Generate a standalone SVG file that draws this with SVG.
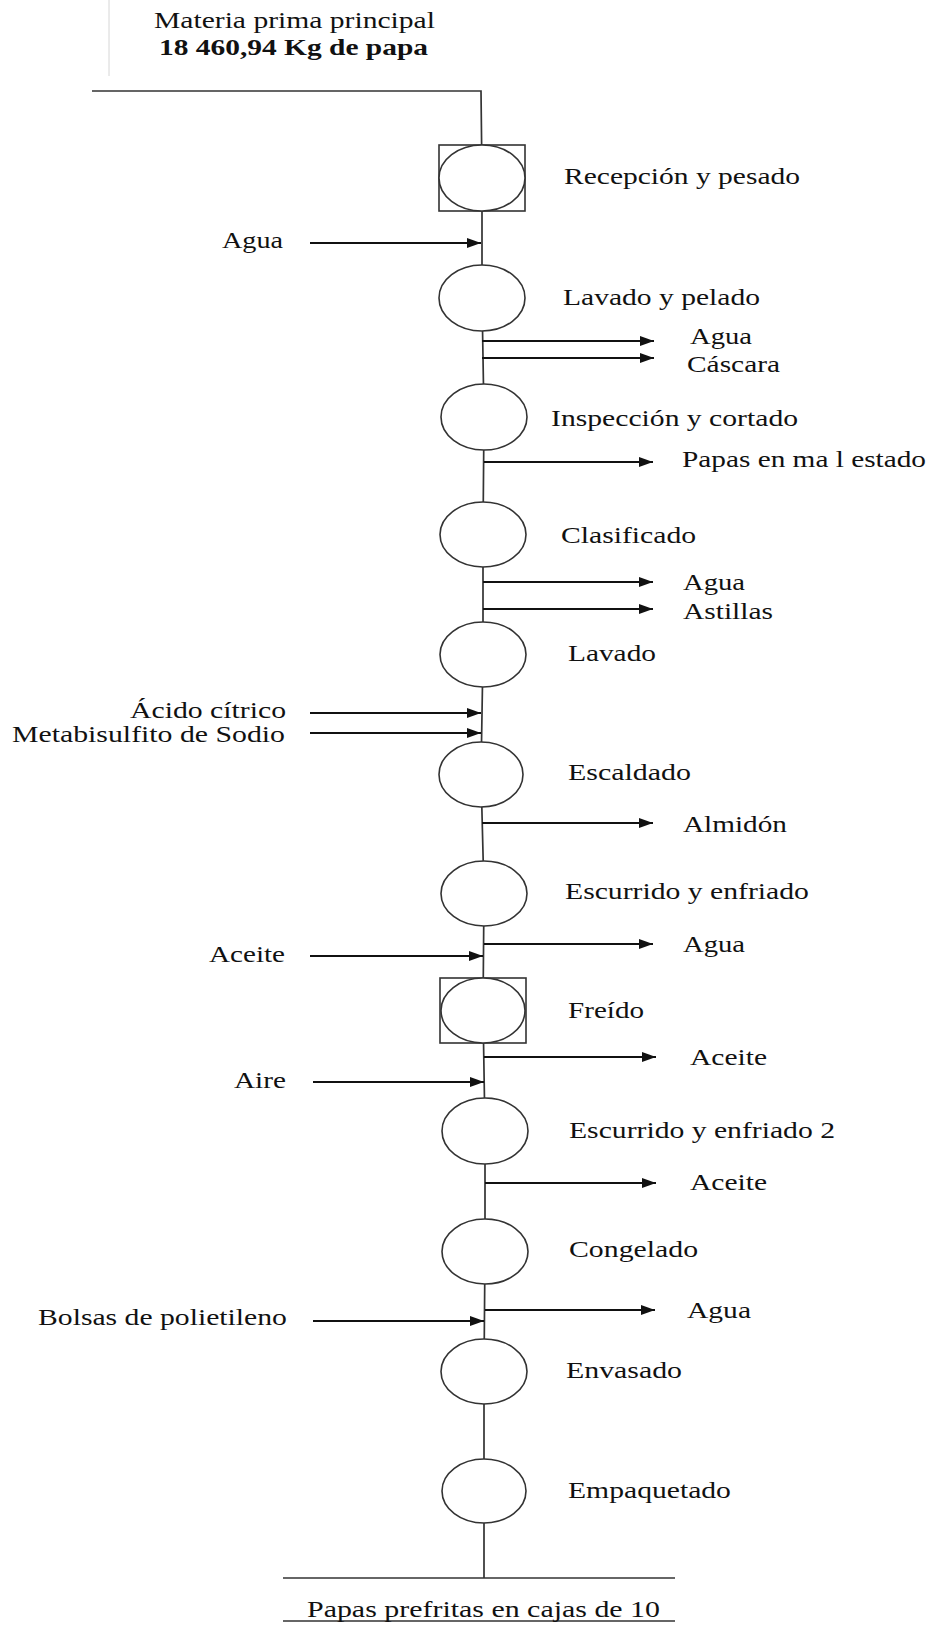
<svg xmlns="http://www.w3.org/2000/svg" width="930" height="1625" viewBox="0 0 930 1625">
<style>
text{font-family:"Liberation Serif","Times New Roman",serif;font-size:23px;fill:#111}
.b{font-weight:bold}
.shape{fill:#fff;stroke:#333;stroke-width:1.6}
.main{fill:none;stroke:#333;stroke-width:1.7}
.arr{fill:none;stroke:#111;stroke-width:2;marker-end:url(#ah)}
.faint{stroke:#d6d6d6;stroke-width:1;fill:none}
</style>
<defs>
<marker id="ah" markerUnits="userSpaceOnUse" markerWidth="15" markerHeight="11" refX="14" refY="5.5" orient="auto">
<path d="M0,0.5 L14,5.5 L0,10.5 z" fill="#111"/>
</marker>
</defs>
<rect width="930" height="1625" fill="#fff"/>
<g id="title">
<line class="faint" x1="109" y1="0" x2="109" y2="76"/>
<text transform="translate(154,28) scale(1.28,1)" textLength="219.5" lengthAdjust="spacingAndGlyphs">Materia prima principal</text>
<text class="b" transform="translate(159,55) scale(1.28,1)" textLength="210.2" lengthAdjust="spacingAndGlyphs">18 460,94 Kg de papa</text>
</g>
<g id="connectors">
<path class="main" d="M92,91 H481 L482,178 L482,298 L484,417 L483,534 L483,654 L481,774 L484,893 L483,1010 L485,1131 L485,1251 L484,1371 L484,1491 L484,1578"/>
<line class="main" x1="283" y1="1578" x2="675" y2="1578"/>
<line class="main" x1="283" y1="1621" x2="675" y2="1621"/>
<line class="arr" x1="310" y1="243" x2="481" y2="243"/>
<line class="arr" x1="482" y1="341" x2="654" y2="341"/>
<line class="arr" x1="482" y1="358" x2="654" y2="358"/>
<line class="arr" x1="484" y1="462" x2="653" y2="462"/>
<line class="arr" x1="483" y1="582" x2="653" y2="582"/>
<line class="arr" x1="483" y1="609" x2="653" y2="609"/>
<line class="arr" x1="310" y1="713" x2="481" y2="713"/>
<line class="arr" x1="310" y1="733" x2="481" y2="733"/>
<line class="arr" x1="482" y1="823" x2="653" y2="823"/>
<line class="arr" x1="484" y1="944" x2="653" y2="944"/>
<line class="arr" x1="310" y1="956" x2="483" y2="956"/>
<line class="arr" x1="484" y1="1057" x2="656" y2="1057"/>
<line class="arr" x1="313" y1="1082" x2="484" y2="1082"/>
<line class="arr" x1="485" y1="1183" x2="656" y2="1183"/>
<line class="arr" x1="485" y1="1310" x2="655" y2="1310"/>
<line class="arr" x1="313" y1="1321" x2="484" y2="1321"/>
</g>
<g id="n1"><rect class="shape" x="439" y="145" width="86" height="66"/><ellipse class="shape" cx="482" cy="178" rx="43" ry="33"/><text transform="translate(564,184) scale(1.28,1)" textLength="184.4" lengthAdjust="spacingAndGlyphs">Recepción y pesado</text></g>
<g id="n2"><ellipse class="shape" cx="482" cy="298" rx="43" ry="33"/><text transform="translate(563,305) scale(1.28,1)" textLength="153.9" lengthAdjust="spacingAndGlyphs">Lavado y pelado</text></g>
<g id="n3"><ellipse class="shape" cx="484" cy="417" rx="43" ry="33"/><text transform="translate(551,426) scale(1.28,1)" textLength="193" lengthAdjust="spacingAndGlyphs">Inspección y cortado</text></g>
<g id="n4"><ellipse class="shape" cx="483" cy="534.5" rx="43" ry="32.5"/><text transform="translate(561,543) scale(1.28,1)" textLength="105.5" lengthAdjust="spacingAndGlyphs">Clasificado</text></g>
<g id="n5"><ellipse class="shape" cx="483" cy="654.5" rx="43" ry="32.5"/><text transform="translate(568,661) scale(1.28,1)" textLength="68.75" lengthAdjust="spacingAndGlyphs">Lavado</text></g>
<g id="n6"><ellipse class="shape" cx="481" cy="774.5" rx="42" ry="32.5"/><text transform="translate(568,780) scale(1.28,1)" textLength="96.1" lengthAdjust="spacingAndGlyphs">Escaldado</text></g>
<g id="n7"><ellipse class="shape" cx="484" cy="893.5" rx="43" ry="32.5"/><text transform="translate(565,899) scale(1.28,1)" textLength="190.6" lengthAdjust="spacingAndGlyphs">Escurrido y enfriado</text></g>
<g id="n8"><rect class="shape" x="440" y="978" width="86" height="65"/><ellipse class="shape" cx="483" cy="1010.5" rx="42" ry="32.5"/><text transform="translate(568,1018) scale(1.28,1)" textLength="59.4" lengthAdjust="spacingAndGlyphs">Freído</text></g>
<g id="n9"><ellipse class="shape" cx="485" cy="1131" rx="43" ry="33"/><text transform="translate(569,1138) scale(1.28,1)" textLength="207.8" lengthAdjust="spacingAndGlyphs">Escurrido y enfriado 2</text></g>
<g id="n10"><ellipse class="shape" cx="485" cy="1251.5" rx="43" ry="32.5"/><text transform="translate(569,1257) scale(1.28,1)" textLength="100.8" lengthAdjust="spacingAndGlyphs">Congelado</text></g>
<g id="n11"><ellipse class="shape" cx="484" cy="1371.5" rx="43" ry="32.5"/><text transform="translate(566,1378) scale(1.28,1)" textLength="90.6" lengthAdjust="spacingAndGlyphs">Envasado</text></g>
<g id="n12"><ellipse class="shape" cx="484" cy="1491" rx="42" ry="32"/><text transform="translate(568,1498) scale(1.28,1)" textLength="127.3" lengthAdjust="spacingAndGlyphs">Empaquetado</text></g>
<g id="flow-labels">
<text transform="translate(222,248) scale(1.28,1)" textLength="47.7" lengthAdjust="spacingAndGlyphs">Agua</text>
<text transform="translate(690,344) scale(1.28,1)" textLength="48.4" lengthAdjust="spacingAndGlyphs">Agua</text>
<text transform="translate(687,372) scale(1.28,1)" textLength="72.7" lengthAdjust="spacingAndGlyphs">Cáscara</text>
<text transform="translate(682,467) scale(1.28,1)" textLength="190.6" lengthAdjust="spacingAndGlyphs">Papas en ma l estado</text>
<text transform="translate(683,590) scale(1.28,1)" textLength="48.4" lengthAdjust="spacingAndGlyphs">Agua</text>
<text transform="translate(683,619) scale(1.28,1)" textLength="70.3" lengthAdjust="spacingAndGlyphs">Astillas</text>
<text transform="translate(130,718) scale(1.28,1)" textLength="121.9" lengthAdjust="spacingAndGlyphs">Ácido cítrico</text>
<text transform="translate(12,742) scale(1.28,1)" textLength="213.3" lengthAdjust="spacingAndGlyphs">Metabisulfito de Sodio</text>
<text transform="translate(683,832) scale(1.28,1)" textLength="81.25" lengthAdjust="spacingAndGlyphs">Almidón</text>
<text transform="translate(683,952) scale(1.28,1)" textLength="48.4" lengthAdjust="spacingAndGlyphs">Agua</text>
<text transform="translate(209,962) scale(1.28,1)" textLength="59.4" lengthAdjust="spacingAndGlyphs">Aceite</text>
<text transform="translate(690,1065) scale(1.28,1)" textLength="60.2" lengthAdjust="spacingAndGlyphs">Aceite</text>
<text transform="translate(234,1088) scale(1.28,1)" textLength="40.6" lengthAdjust="spacingAndGlyphs">Aire</text>
<text transform="translate(690,1190) scale(1.28,1)" textLength="60.2" lengthAdjust="spacingAndGlyphs">Aceite</text>
<text transform="translate(687,1318) scale(1.28,1)" textLength="50" lengthAdjust="spacingAndGlyphs">Agua</text>
<text transform="translate(38,1325) scale(1.28,1)" textLength="194.5" lengthAdjust="spacingAndGlyphs">Bolsas de polietileno</text>
<text transform="translate(307,1617) scale(1.28,1)" textLength="275.8" lengthAdjust="spacingAndGlyphs">Papas prefritas en cajas de 10</text>
</g>
</svg>
